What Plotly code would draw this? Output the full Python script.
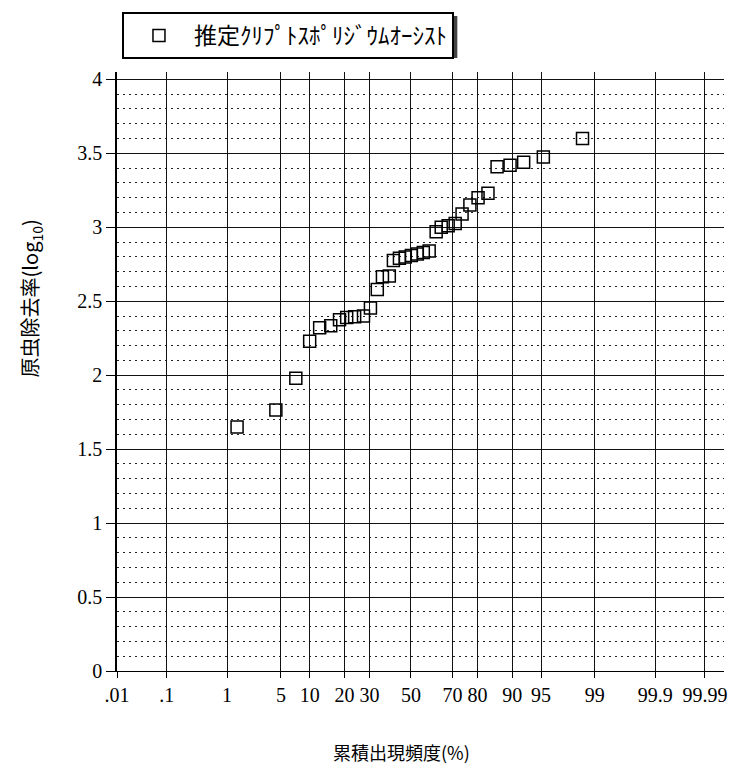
import plotly.graph_objects as go
from statistics import NormalDist

nd = NormalDist()

# Cumulative frequency of occurrence (%)
cum_pct = [1.39, 4.37, 7.26, 10.0, 12.4, 15.5, 18.3, 20.8, 23.8, 27.4, 30.4, 33.5,
           35.9, 39.2, 41.2, 44.2, 47.1, 50.2, 53.2, 56.2, 59.1,
           62.5, 64.9, 68.1, 71.2, 74.1, 77.2, 80.2, 83.5, 86.2, 89.5, 92.3, 95.3, 98.5]
# Estimated Cryptosporidium oocyst removal (log10)
removal_log = [1.65, 1.765, 1.98, 2.23, 2.32, 2.335, 2.375, 2.39, 2.395, 2.40, 2.455, 2.58,
               2.665, 2.67, 2.775, 2.79, 2.80, 2.81, 2.82, 2.83, 2.84,
               2.97, 3.00, 3.01, 3.025, 3.09, 3.15, 3.20, 3.23, 3.41, 3.42, 3.44, 3.475, 3.60]

tick_pct = [0.01, 0.1, 1, 5, 10, 20, 30, 50, 70, 80, 90, 95, 99, 99.9, 99.99]
tick_text = [".01", ".1", "1", "5", "10", "20", "30", "50", "70", "80", "90", "95", "99", "99.9", "99.99"]
y_ticks = [0, 0.5, 1, 1.5, 2, 2.5, 3, 3.5, 4]
y_text = ["0", "0.5", "1", "1.5", "2", "2.5", "3", "3.5", "4"]

series_name = "推定ｸﾘﾌﾟﾄｽﾎﾟﾘｼﾞｳﾑｵｰｼｽﾄ"

def probit(p):
    return nd.inv_cdf(p / 100.0)

x_vals = [probit(p) for p in cum_pct]
x_ticks = [probit(p) for p in tick_pct]

W, H = 731, 766
ML, MR, MT, MB = 117, 4, 72, 95
PW, PH = W - ML - MR, H - MT - MB

def px(xp):
    return (xp - ML) / PW

def py(yp):
    return (H - MB - yp) / PH

fig = go.Figure()
fig.add_trace(go.Scatter(
    x=x_vals, y=removal_log, mode="markers", name=series_name,
    marker=dict(symbol="square-open", size=12, color="black", line=dict(width=1.5, color="black")),
    showlegend=True,
))

serif = "'Liberation Serif', 'Times New Roman', Times, 'DejaVu Serif', serif"
cjk = "Noto Sans CJK JP"

fig.update_layout(
    width=W, height=H,
    margin=dict(l=ML, r=MR, t=MT, b=MB),
    paper_bgcolor="white", plot_bgcolor="white",
    showlegend=True,
    legend=dict(
        x=px(122), y=py(12), xanchor="left", yanchor="top",
        font=dict(family=cjk, size=23, color="black"),
        bordercolor="black", borderwidth=2, bgcolor="white",
        itemwidth=60,
    ),
    xaxis=dict(
        range=[probit(0.01), 3.96],
        tickmode="array", tickvals=x_ticks, ticktext=tick_text,
        showgrid=True, gridcolor="#111", gridwidth=1,
        zeroline=False,
        showline=True, linecolor="black", linewidth=1,
        ticks="outside", ticklen=6, tickcolor="black",
        tickfont=dict(family=serif, size=20, color="black"),
    ),
    yaxis=dict(
        range=[0, 4.05],
        tickmode="array", tickvals=y_ticks, ticktext=y_text,
        showgrid=True, gridcolor="#111", gridwidth=1,
        zeroline=False,
        showline=True, linecolor="black", linewidth=1.5,
        ticks="outside", ticklen=9, tickcolor="black",
        tickfont=dict(family=serif, size=20, color="black"),
        minor=dict(dtick=0.1, showgrid=True, gridcolor="#222", griddash="2px,4px", gridwidth=1, ticks=""),
    ),
    shapes=[
        dict(type="rect", xref="paper", yref="paper",
             x0=px(126), x1=px(459), y0=py(16), y1=py(58),
             fillcolor="#444", line=dict(width=0), layer="below"),
    ],
    annotations=[
        dict(text="原虫除去率(log<sub>10</sub>)", xref="paper", yref="paper",
             x=px(30), y=py(298), xanchor="center", yanchor="middle", textangle=-90,
             showarrow=False, font=dict(family=cjk, size=20, color="black")),
        dict(text="累積出現頻度(%)", xref="paper", yref="paper",
             x=px(403), y=py(752), xanchor="center", yanchor="middle",
             showarrow=False, font=dict(family=cjk, size=18, color="black")),
    ],
)

fig.write_html("out.html")
